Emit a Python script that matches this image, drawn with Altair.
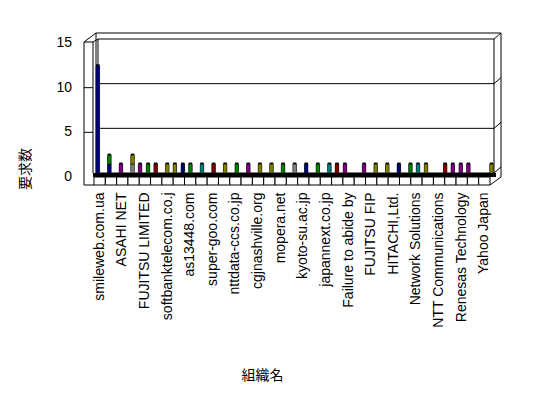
import json
import altair as alt
import pandas as pd

# ---- data ----
category_labels = [
    "smileweb.com.ua", "", "ASAHI NET", "", "FUJITSU LIMITED", "",
    "softbanktelecom.co.j", "", "as13448.com", "", "super-goo.com", "",
    "nttdata-ccs.co.jp", "", "cgjnashville.org", "", "mopera.net", "",
    "kyoto-su.ac.jp", "", "japannext.co.jp", "", "Failure to abide by", "",
    "FUJITSU FIP", "", "HITACHI,Ltd.", "", "Network Solutions", "",
    "NTT Communications", "", "Renesas Technology", "", "Yahoo Japan",
]
n_cat = len(category_labels)

series_ids = ["s1", "s2", "s3", "s4", "s5", "s6", "s7"]
series_colors = ["#000080", "#008000", "#800080", "#808080", "#808000", "#800000", "#008080"]

bar_category = [0, 1, 1, 2, 3, 3, 4, 4, 5, 6, 7, 7, 8, 9, 10, 11, 12, 13, 14, 15,
                16, 17, 18, 19, 20, 21, 21, 23, 24, 25, 26, 27, 28, 28, 30, 31, 31, 32, 34]
bar_series = ["s1", "s1", "s2", "s3", "s4", "s5", "s3", "s2", "s6", "s5",
              "s5", "s1", "s2", "s7", "s6", "s5", "s2", "s3", "s5", "s5",
              "s2", "s4", "s1", "s2", "s7", "s6", "s3", "s3", "s5", "s5",
              "s1", "s2", "s7", "s5", "s6", "s3", "s3", "s3", "s5"]
bar_value = [12] + [1] * 38
bar_slot = ["C", "C", "C", "C", "C", "C", "L", "R", "C", "C",
            "L", "R", "C", "C", "C", "C", "C", "C", "C", "C",
            "C", "C", "C", "C", "C", "L", "R", "C", "C", "C",
            "C", "C", "L", "R", "C", "L", "R", "C", "C"]

y_ticks = [0, 5, 10, 15]
side_ticks = [5, 10]
y_title = "要求数"
x_title = "組織名"

# ---- tables ----
bars = pd.DataFrame({"cat": bar_category, "series": bar_series,
                     "value": bar_value, "slot": bar_slot})
bars["top"] = bars.groupby(["cat", "slot"])["value"].cumsum()
bars["base"] = bars["top"] - bars["value"]

cats = pd.DataFrame({"cat": list(range(n_cat))})
grid_df = pd.DataFrame({"v": y_ticks})
side_df = pd.DataFrame({"v": side_ticks})

W, H = 396, 134
FONT = "Liberation Sans"
JFONT = "Noto Sans CJK JP"

y_scale = alt.Scale(domain=[0, 15], nice=False, zero=True)
x_back = alt.Scale(domain=list(range(n_cat)), range=[-2, 403.3], paddingInner=0, paddingOuter=0)
x_front = alt.Scale(domain=list(range(n_cat)), paddingInner=0, paddingOuter=0)
off_scale = alt.Scale(domain=["L", "C", "R"], paddingInner=0.1, paddingOuter=0)

one = alt.Data(values=[{}])


def seg(x, y, x2=None, y2=None):
    enc = dict(x=alt.value(x), y=alt.value(y))
    if x2 is not None:
        enc["x2"] = alt.value(x2)
    if y2 is not None:
        enc["y2"] = alt.value(y2)
    return alt.Chart(one).mark_rule(color="black", strokeWidth=1).encode(**enc)


grid = alt.Chart(grid_df).mark_rule(color="black", strokeWidth=1).encode(
    y=alt.Y("v:Q", scale=y_scale, axis=None),
    x=alt.value(4), x2=alt.value(400),
)
right_diag = alt.Chart(grid_df).mark_rule(color="black", y2Offset=-6).encode(
    y=alt.Y("v:Q", scale=y_scale, axis=None), y2=alt.Y2("v"),
    x=alt.value(400), x2=alt.value(407),
)
side_grid = alt.Chart(side_df).mark_rule(color="black", yOffset=4).encode(
    y=alt.Y("v:Q", scale=y_scale, axis=None),
    x=alt.value(-10), x2=alt.value(-1),
)
# y tick labels (front plane, hence shifted 4px down)
y_labels = alt.Chart(grid_df).mark_text(
    align="right", baseline="middle", font=FONT, fontSize=14, color="black", yOffset=4
).encode(
    y=alt.Y("v:Q", scale=y_scale, axis=None),
    x=alt.value(-22),
    text=alt.Text("v:Q"),
)
y_title_mark = alt.Chart(one).mark_text(
    text=y_title, angle=270, font=JFONT, fontSize=14, color="black",
    align="center", baseline="middle"
).encode(x=alt.value(-68), y=alt.value(130))

floor_strip = alt.Chart(one).mark_rect(color="black").encode(
    x=alt.value(-1), x2=alt.value(402), y=alt.value(H), y2=alt.value(H + 4))

label_expr = f"{json.dumps(category_labels, ensure_ascii=False)}[datum.value]"
floor_cells = alt.Chart(cats).mark_rect(fill="white", stroke="black", strokeWidth=1).encode(
    x=alt.X("cat:O", scale=x_front, axis=alt.Axis(
        orient="bottom", labelExpr=label_expr, labelAngle=-90, labelPadding=19,
        ticks=False, domain=False, grid=False, labelFont=FONT, labelFontSize=14,
        labelColor="black", labelOverlap=False, title=x_title, titleFont=JFONT,
        titleFontSize=14, titleFontWeight="normal", titleColor="black",
        titleX=168, titleY=202, titleAlign="center", titleBaseline="middle")),
    y=alt.value(H + 4), y2=alt.value(H + 12),
)

frame = [
    seg(-10, 3, y2=H + 12),
    seg(-1, 3, y2=H),
    seg(-10, 3, x2=-1),
    seg(-10, 3, x2=2, y2=-6),
    seg(-1, 3, x2=4, y2=0),
    seg(2, -6, x2=407),
    seg(2, -6, y2=H),
    seg(4, 0, y2=H),
    seg(400, 0, y2=H),
    seg(407, -6, y2=H + 4),
    seg(-10, H + 12, x2=0),
    seg(W, H + 12, x2=407, y2=H + 4),
]

shadow = alt.Chart(bars).mark_bar(color="#000000", xOffset=1.5, yOffset=-1.5, y2Offset=-1.5).encode(
    x=alt.X("cat:O", scale=x_back, axis=None),
    xOffset=alt.XOffset("slot:N", scale=off_scale),
    y=alt.Y("top:Q", scale=y_scale, axis=None),
    y2="base:Q",
)
front = alt.Chart(bars).mark_bar(stroke="black", strokeWidth=0.5).encode(
    x=alt.X("cat:O", scale=x_back, axis=None),
    xOffset=alt.XOffset("slot:N", scale=off_scale),
    y=alt.Y("top:Q", scale=y_scale, axis=None),
    y2="base:Q",
    color=alt.Color("series:N", scale=alt.Scale(domain=series_ids, range=series_colors), legend=None),
)

chart = alt.layer(
    grid, right_diag, side_grid, y_labels, y_title_mark, *frame,
    floor_strip, floor_cells, shadow, front
).resolve_scale(x="independent").properties(
    width=W, height=H,
    padding={"left": 86, "top": 31, "right": 40, "bottom": 215},
    autosize=alt.AutoSizeParams(type="none"),
    background="white",
).configure_view(stroke=None)

chart.save("out.html", embed_options={"renderer": "svg", "actions": False})
